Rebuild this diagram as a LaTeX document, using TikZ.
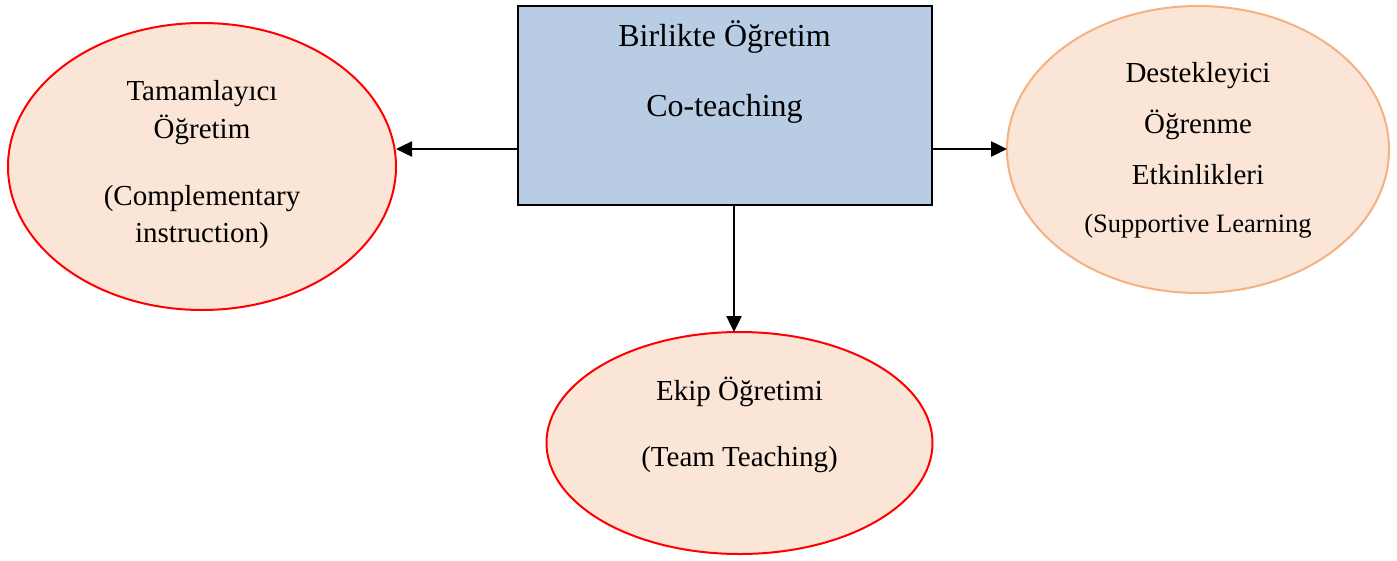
\documentclass[tikz,border=0pt]{standalone}
\usepackage{fontspec}
\setmainfont{Liberation Serif}
\usetikzlibrary{shapes.geometric,arrows.meta}
\definecolor{boxblue}{HTML}{B8CCE4}
\definecolor{peach}{HTML}{FBE5D6}
\definecolor{ored}{HTML}{FF0000}
\definecolor{oorange}{HTML}{F4B183}
\begin{document}
\begin{tikzpicture}[x=1pt,y=-1pt,
  ell/.style={ellipse, fill=peach, line width=2pt, inner sep=0pt, outer sep=0pt},
  boxst/.style={rectangle, draw=black, fill=boxblue, line width=2pt, inner sep=0pt, outer sep=0pt, minimum width=414pt, minimum height=199pt},
  txt/.style={anchor=base, inner sep=0pt, font=\fontsize{29}{34}\selectfont},
  ttl/.style={anchor=base, inner sep=0pt, font=\fontsize{32}{38}\selectfont},
  sml/.style={anchor=base, inner sep=0pt, font=\fontsize{26.5}{31}\selectfont},
  arr/.style={-{Triangle[length=16pt,width=15pt]}, line width=2.5pt}]
\fill[white] (0,0) rectangle (1397,560);
\useasboundingbox (0,0) rectangle (1397,560);

% shapes
\node[boxst] (box) at (725,105.5) {};
\node[ell, draw=ored, minimum width=388pt, minimum height=287pt] (tam) at (202,166.5) {};
\node[ell, draw=oorange, minimum width=382pt, minimum height=287pt] (des) at (1198,149.5) {};
\node[ell, draw=ored, minimum width=386pt, minimum height=222pt] (ekip) at (739.5,443) {};

% texts
\node[ttl] (t1) at (724.5,46) {Birlikte Öğretim};
\node[ttl] (t2) at (724.5,116) {Co-teaching};

\node[txt] (l1) at (202,100) {Tamamlayıcı};
\node[txt] (l2) at (202,138) {Öğretim};
\node[txt] (l3) at (202,205) {(Complementary};
\node[txt] (l4) at (202,242) {instruction)};

\node[txt] (r1) at (1198,82) {Destekleyici};
\node[txt] (r2) at (1198,133) {Öğrenme};
\node[txt] (r3) at (1198,184) {Etkinlikleri};
\node[sml] (r4) at (1198,232) {(Supportive Learning};

\node[txt] (b1) at (739.5,400) {Ekip Öğretimi};
\node[txt] (b2) at (739.5,466) {(Team Teaching)};

% connectors
\coordinate (la) at (box.west |- 0,149);
\coordinate (ra) at (box.east |- 0,149);
\coordinate (da) at (734,205);
\draw[arr] (la) -- (la -| tam.east);
\draw[arr] (ra) -- (ra -| des.west);
\draw[arr] (da) -- (da |- ekip.north);
\end{tikzpicture}
\end{document}
